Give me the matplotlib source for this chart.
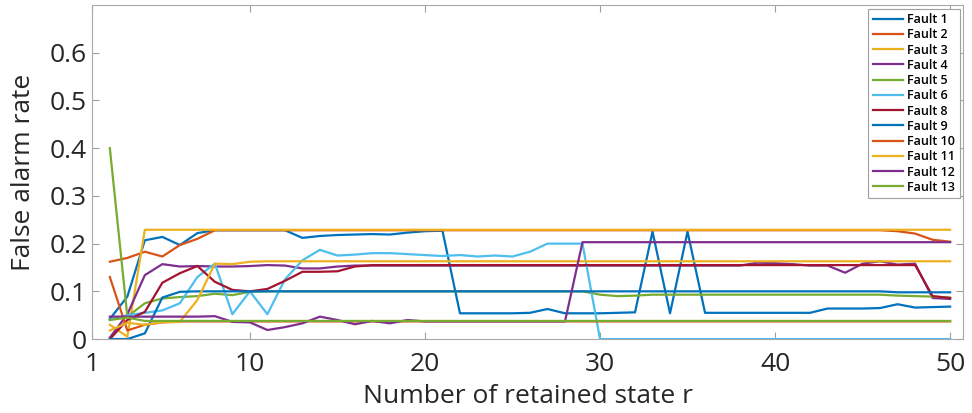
import numpy as np
import matplotlib
matplotlib.use("Agg")
import matplotlib.pyplot as plt

plt.rcParams['font.family'] = ['Open Sans', 'DejaVu Sans']

# retained state r
r = np.arange(2, 51)

# false alarm rates, r = 2..50
fault1 = [0.042, 0.089, 0.207, 0.214, 0.197, 0.222, 0.228, 0.228, 0.228, 0.228, 0.228,
          0.212, 0.216, 0.218, 0.219, 0.220, 0.219, 0.223, 0.226, 0.227,
          0.054, 0.054, 0.054, 0.054, 0.055, 0.063, 0.054, 0.054, 0.054, 0.055, 0.056,
          0.225, 0.054, 0.225,
          0.055, 0.055, 0.055, 0.055, 0.055, 0.055, 0.055,
          0.064, 0.064, 0.064, 0.065, 0.073, 0.066, 0.067, 0.068]
fault2 = [0.162, 0.170, 0.183, 0.173, 0.197, 0.210] + [0.228] * 39 + [0.226, 0.221, 0.208, 0.204]
fault3 = [0.030, 0.005] + [0.229] * 47
fault4 = [0.003, 0.052, 0.134, 0.157, 0.152, 0.153, 0.152, 0.152, 0.153, 0.155, 0.154,
          0.148, 0.148, 0.152] + [0.154] * 23 + \
         [0.160, 0.159, 0.157, 0.154, 0.154, 0.139, 0.158, 0.163, 0.156, 0.158, 0.086, 0.084]
fault5 = [0.400, 0.047, 0.075, 0.085, 0.088, 0.090, 0.095, 0.092, 0.099] + [0.100] * 19 + \
         [0.093, 0.090, 0.091] + [0.093] * 14 + [0.091, 0.090, 0.089, 0.087]
fault6 = [0.040, 0.050, 0.055, 0.060, 0.075, 0.130, 0.158, 0.052, 0.100, 0.052, 0.125,
          0.165, 0.187, 0.175, 0.177, 0.180, 0.180, 0.178, 0.176, 0.174, 0.176, 0.173,
          0.175, 0.173, 0.183, 0.200, 0.200, 0.200] + [0.0] * 21
fault8 = [0.000, 0.040, 0.057, 0.118, 0.138, 0.153, 0.120, 0.103, 0.100, 0.105, 0.122,
          0.141, 0.141, 0.142, 0.152] + [0.155] * 32 + [0.090, 0.086]
fault9 = [0.000, 0.000, 0.012, 0.087, 0.099] + [0.100] * 40 + [0.098] * 4
fault10 = [0.130, 0.018, 0.030, 0.035] + [0.037] * 45
fault11 = [0.018, 0.034, 0.030, 0.035, 0.036, 0.082, 0.158, 0.157, 0.162] + [0.163] * 40
fault12 = [0.047, 0.047, 0.047, 0.047, 0.047, 0.047, 0.048,
           0.036, 0.035, 0.019, 0.025, 0.033, 0.047, 0.040, 0.031, 0.038, 0.033, 0.040, 0.037] + \
          [0.037] * 8 + [0.203] * 22
fault13 = [0.040, 0.045] + [0.038] * 47

labels = ['Fault 1', 'Fault 2', 'Fault 3', 'Fault 4', 'Fault 5', 'Fault 6',
          'Fault 8', 'Fault 9', 'Fault 10', 'Fault 11', 'Fault 12', 'Fault 13']
series = [fault1, fault2, fault3, fault4, fault5, fault6,
          fault8, fault9, fault10, fault11, fault12, fault13]
colors = ['#0072BD', '#D95319', '#EDB120', '#7E2F8E', '#77AC30', '#4DBEEE',
          '#A2142F', '#0072BD', '#D95319', '#EDB120', '#7E2F8E', '#77AC30']

fig = plt.figure(figsize=(9.72, 4.13), dpi=100)
ax = fig.add_axes([0.095, 0.179, 0.896, 0.809])

for y, lab, c in zip(series, labels, colors):
    ax.plot(r, y, color=c, lw=1.6, label=lab)

ax.set_xlim(1, 50.75)
ax.set_ylim(0, 0.70)
ax.set_xticks([1, 10, 20, 30, 40, 50])
ax.set_yticks(np.arange(0, 0.61, 0.1))
ax.set_yticklabels(['0', '0.1', '0.2', '0.3', '0.4', '0.5', '0.6'])
ax.tick_params(direction='in', length=5, color='#a0a0a0', labelsize=19,
               labelcolor='#262626', top=True, right=True)
ax.tick_params(axis='x', pad=9)
ax.tick_params(axis='y', pad=4)
for s in ax.spines.values():
    s.set_color('#a8a8a8')

ax.set_xlabel('Number of retained state r', fontsize=19, color='#262626', labelpad=5)
ax.set_ylabel('False alarm rate', fontsize=19, color='#262626', labelpad=10)

leg = ax.legend(loc='upper right', prop={'size': 9, 'weight': 'semibold'},
                handlelength=2.4, labelspacing=0.18, borderaxespad=0.3, fancybox=False,
                framealpha=1, borderpad=0.35, handletextpad=0.35)
leg.get_frame().set_edgecolor('#a0a0a0')
leg.get_frame().set_linewidth(0.8)

fig.savefig('out.png', dpi=100)
